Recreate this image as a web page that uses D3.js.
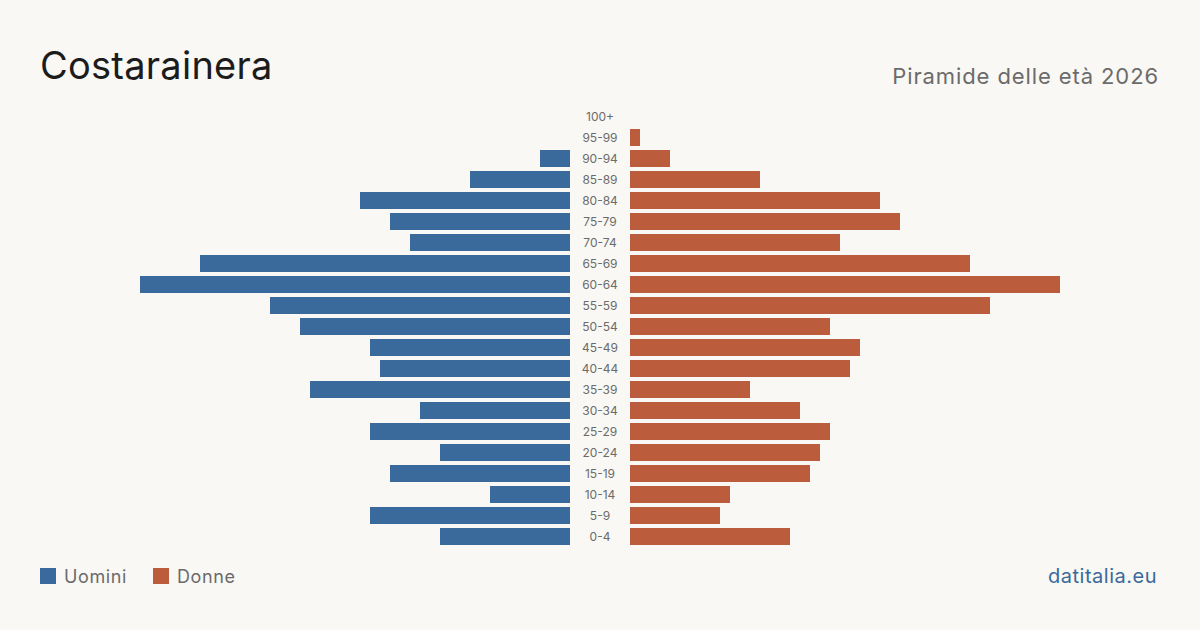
<!DOCTYPE html>
<html><head><meta charset="utf-8">
<script src="https://cdn.jsdelivr.net/npm/d3@7"></script>
<style>html,body{margin:0;padding:0;background:#f9f8f4;}svg{display:block;}</style>
</head><body>
<svg id="c" width="1200" height="630"></svg>
<script>
const ageGroups = ["100+","95-99","90-94","85-89","80-84","75-79","70-74","65-69","60-64","55-59","50-54","45-49","40-44","35-39","30-34","25-29","20-24","15-19","10-14","5-9","0-4"];
const men =   [0,0,3,10,21,18,16,37,43,30,27,20,19,26,15,20,13,18,8,20,13];
const women = [0,1,4,13,25,27,21,34,43,36,20,23,22,12,17,20,19,18,10,9,16];
const seriesNames = ["Uomini","Donne"];
const colors = {men:"#3a6a9b", women:"#bb5c3c"};

const svg = d3.select("#c");
const font = "Inter, 'Noto Sans', sans-serif";
svg.append("rect").attr("width",1200).attr("height",630).attr("fill","#f9f8f4");

const y = d3.scaleBand().domain(ageGroups).range([106,547]).paddingInner(4/21).paddingOuter(2/21);
const maxV = 43;
const xL = d3.scaleLinear().domain([0,maxV]).range([570,140]);
const xR = d3.scaleLinear().domain([0,maxV]).range([630,1060]);

svg.append("g").selectAll("rect").data(ageGroups).join("rect")
  .attr("x",(d,i)=>xL(men[i])).attr("y",d=>y(d))
  .attr("width",(d,i)=>xL(0)-xL(men[i])).attr("height",y.bandwidth())
  .attr("fill",colors.men);
svg.append("g").selectAll("rect").data(ageGroups).join("rect")
  .attr("x",xR(0)).attr("y",d=>y(d))
  .attr("width",(d,i)=>xR(women[i])-xR(0)).attr("height",y.bandwidth())
  .attr("fill",colors.women);
svg.append("g").selectAll("text").data(ageGroups).join("text")
  .attr("x",600).attr("y",d=>y(d)+y.bandwidth()/2).attr("dy","0.35em")
  .attr("text-anchor","middle").attr("font-family",font).attr("font-size",12)
  .attr("fill","#6b6b6b").text(d=>d);

svg.append("text").attr("x",40).attr("y",79).attr("font-family",font).attr("font-size",38)
  .attr("fill","#1c1c1c").attr("letter-spacing","0.25").text("Costarainera");
svg.append("text").attr("x",1159).attr("y",84).attr("text-anchor","end").attr("font-family",font)
  .attr("font-size",22).attr("letter-spacing","0.9").attr("fill","#6b6b6b").text("Piramide delle età 2026");

const leg = [{n:seriesNames[0],c:colors.men,x:40},{n:seriesNames[1],c:colors.women,x:153}];
leg.forEach(l=>{
  svg.append("rect").attr("x",l.x).attr("y",568).attr("width",16).attr("height",16).attr("fill",l.c);
  svg.append("text").attr("x",l.x+24).attr("y",583).attr("font-family",font).attr("font-size",18)
    .attr("letter-spacing","0.6").attr("fill","#6b6b6b").text(l.n);
});
svg.append("text").attr("x",1157).attr("y",583).attr("text-anchor","end").attr("font-family",font)
  .attr("font-size",20).attr("letter-spacing","0.5").attr("fill","#3a6a9b").text("datitalia.eu");
</script>
</body></html>
